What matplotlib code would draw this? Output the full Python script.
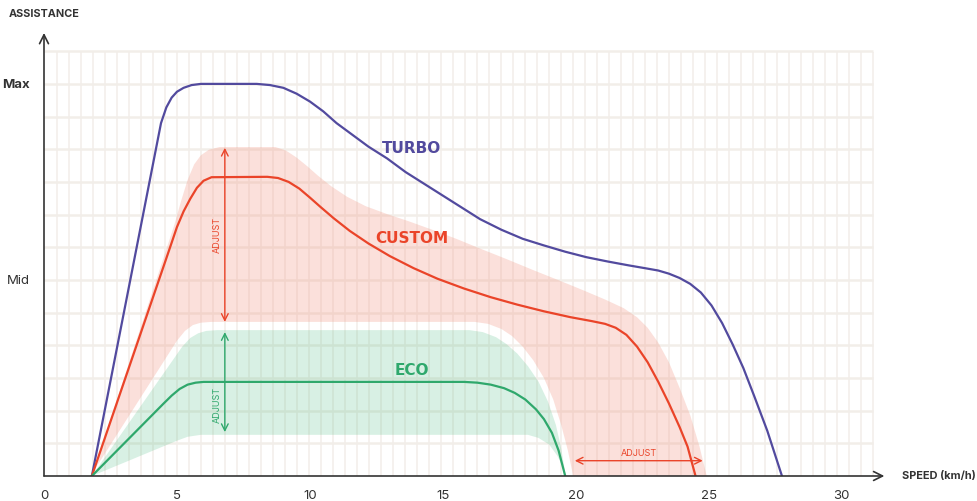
import numpy as np
import matplotlib
matplotlib.use('Agg')
import matplotlib.pyplot as plt

# speed (km/h) -> assistance (0..1, Mid = 0.5, Max = 1)
turbo_x = [1.8, 4.4, 4.6, 4.8, 5.0, 5.25, 5.55, 5.9, 8.0, 8.5, 9.0, 9.5, 10.0, 10.5, 11.0, 11.6, 12.2,
           12.9, 13.6, 14.3, 15.0, 15.7, 16.4, 17.2, 18.0, 18.8, 19.6, 20.4, 21.2, 22.0, 22.6, 23.1,
           23.5, 23.9, 24.3, 24.7, 25.1, 25.5, 25.9, 26.3, 26.7, 27.2, 27.75]
turbo_y = [0, 0.9, 0.94, 0.965, 0.98, 0.99, 0.997, 1.0, 1.0, 0.997, 0.99, 0.975, 0.955, 0.93, 0.9, 0.87, 0.84,
           0.81, 0.775, 0.745, 0.715, 0.685, 0.655, 0.628, 0.605, 0.588, 0.572, 0.558, 0.547, 0.537, 0.53, 0.524,
           0.516, 0.505, 0.49, 0.468, 0.435, 0.39, 0.335, 0.275, 0.205, 0.115, 0]

custom_x = [1.8, 4.7, 5.0, 5.25, 5.5, 5.75, 6.0, 6.3, 8.4, 8.8, 9.2, 9.6, 10.0, 10.4, 10.9, 11.5, 12.2,
            13.0, 13.9, 14.8, 15.8, 16.8, 17.8, 18.8, 19.8, 20.6, 21.1, 21.5, 21.9, 22.3, 22.7, 23.1,
            23.5, 23.9, 24.2, 24.5]
custom_y = [0, 0.575, 0.635, 0.675, 0.707, 0.735, 0.753, 0.762, 0.763, 0.76, 0.75, 0.733, 0.71, 0.686, 0.657,
            0.625, 0.593, 0.561, 0.53, 0.503, 0.478, 0.456, 0.437, 0.42, 0.405, 0.395, 0.388, 0.378, 0.36, 0.33,
            0.29, 0.24, 0.185, 0.125, 0.075, 0]

custom_hi_x = [1.8, 4.9, 5.15, 5.4, 5.65, 5.9, 6.2, 6.6, 8.7, 9.1, 9.5, 9.9, 10.3, 10.8, 11.4, 12.1, 12.9,
               13.7, 14.6, 15.5, 16.4, 17.4, 18.4, 19.4, 20.3, 21.1, 21.8, 22.3, 22.7, 23.1, 23.5, 23.9,
               24.3, 24.65, 24.92]
custom_hi_y = [0, 0.64, 0.7, 0.755, 0.795, 0.818, 0.832, 0.839, 0.839, 0.83, 0.812, 0.79, 0.766, 0.739, 0.712,
               0.688, 0.668, 0.65, 0.628, 0.605, 0.58, 0.553, 0.525, 0.498, 0.473, 0.45, 0.428, 0.405, 0.378,
               0.34, 0.29, 0.225, 0.155, 0.075, 0]
custom_lo_x = [1.75, 5.0, 5.3, 5.6, 5.9, 6.3, 16.2, 16.7, 17.2, 17.6, 18.0, 18.4, 18.8, 19.15, 19.45, 19.7, 19.9]
custom_lo_y = [0, 0.345, 0.37, 0.385, 0.391, 0.393, 0.393, 0.388, 0.375, 0.357, 0.33, 0.295, 0.25, 0.195,
               0.13, 0.065, 0]

eco_x = [1.8, 4.5, 4.8, 5.1, 5.4, 5.7, 6.0, 15.8, 16.3, 16.8, 17.3, 17.7, 18.1, 18.5, 18.8, 19.1, 19.35, 19.6]
eco_y = [0, 0.185, 0.205, 0.222, 0.233, 0.238, 0.24, 0.24, 0.238, 0.233, 0.224, 0.212, 0.195, 0.17, 0.145,
         0.11, 0.065, 0]

eco_hi_x = [1.8, 5.2, 5.5, 5.8, 6.1, 6.5, 16.0, 16.5, 17.0, 17.4, 17.8, 18.2, 18.6, 18.95, 19.25, 19.45, 19.62]
eco_hi_y = [0, 0.33, 0.352, 0.364, 0.37, 0.372, 0.372, 0.367, 0.354, 0.336, 0.312, 0.28, 0.24, 0.19, 0.13,
            0.07, 0]
eco_lo_x = [1.8, 5.0, 5.4, 5.9, 18.2, 18.6, 19.0, 19.3, 19.5, 19.62]
eco_lo_y = [0, 0.09, 0.1, 0.105, 0.105, 0.097, 0.08, 0.052, 0.025, 0]

x_ticks = [0, 5, 10, 15, 20, 25, 30]
y_ticks = [0.5, 1.0]
y_labels = ['Mid', 'Max']

PURPLE = '#524a9e'
RED = '#ea4429'
GREEN = '#2fa86c'
DARK = '#333333'

fig = plt.figure(figsize=(9.78, 5.01), dpi=100)
ax = fig.add_axes([44 / 978, 25 / 501, 843 / 978, 447 / 501])
ax.set_xlim(0, 31.7)
ax.set_ylim(0, 1.14)
for s in ax.spines.values():
    s.set_visible(False)

# grid
grid_c = '#f2eee9'
ax.vlines(np.linspace(0.48, 31.16, 69), 0, 1.0825, color=grid_c, lw=1.1, zorder=0)
ax.hlines(np.arange(1, 14) / 12, 0, 31.16, color=grid_c, lw=1.8, zorder=0)

# bands
ax.fill(custom_hi_x + custom_lo_x[::-1], custom_hi_y + custom_lo_y[::-1],
        color='#f29a88', alpha=0.3, lw=0, zorder=1)
ax.fill(eco_hi_x + eco_lo_x[::-1], eco_hi_y + eco_lo_y[::-1],
        color='#3cb878', alpha=0.2, lw=0, zorder=1)

# curves
ax.plot(turbo_x, turbo_y, color=PURPLE, lw=1.6, zorder=3, solid_joinstyle='round')
ax.plot(custom_x, custom_y, color=RED, lw=1.6, zorder=3, solid_joinstyle='round')
ax.plot(eco_x, eco_y, color=GREEN, lw=1.6, zorder=3, solid_joinstyle='round')

ax.text(13.83, 0.834, 'TURBO', color=PURPLE, fontsize=11, fontweight='bold', ha='center', va='center')
ax.text(13.83, 0.605, 'CUSTOM', color=RED, fontsize=11, fontweight='bold', ha='center', va='center')
ax.text(13.83, 0.27, 'ECO', color=GREEN, fontsize=11, fontweight='bold', ha='center', va='center')

# adjust arrows
def dbl_arrow(p0, p1, c):
    ax.annotate('', xy=p1, xytext=p0, zorder=4,
                arrowprops=dict(arrowstyle='<->', color=c, lw=1.0, shrinkA=0, shrinkB=0,
                                mutation_scale=12))

dbl_arrow((6.8, 0.393), (6.8, 0.837), RED)
dbl_arrow((6.8, 0.112), (6.8, 0.367), GREEN)
dbl_arrow((19.96, 0.039), (24.77, 0.039), RED)
ax.text(6.5, 0.615, 'ADJUST', color=RED, fontsize=6.5, rotation=90, ha='center', va='center', family='Inter')
ax.text(6.5, 0.18, 'ADJUST', color=GREEN, fontsize=6.5, rotation=90, ha='center', va='center', family='Inter')
ax.text(22.37, 0.058, 'ADJUST', color=RED, fontsize=6.5, ha='center', va='center', family='Inter')

# axes with arrows
ax.annotate('', xy=(31.6, 0), xytext=(0, 0), annotation_clip=False, zorder=5,
            arrowprops=dict(arrowstyle='->', color=DARK, lw=1.2, shrinkA=0, shrinkB=0, mutation_scale=16))
ax.annotate('', xy=(0, 1.13), xytext=(0, 0), annotation_clip=False, zorder=5,
            arrowprops=dict(arrowstyle='->', color=DARK, lw=1.2, shrinkA=0, shrinkB=0, mutation_scale=16))

ax.set_xticks(x_ticks)
ax.set_xticklabels([str(t) for t in x_ticks], family='Inter', fontsize=9.5, color=DARK)
ax.set_yticks(y_ticks)
ax.set_yticklabels(y_labels, family='Inter', fontsize=9.5, color=DARK)
ax.get_yticklabels()[1].set_fontweight('bold')
ax.tick_params(length=0)
ax.tick_params(axis='x', pad=10)
ax.tick_params(axis='y', pad=10)

fig.text(9 / 978, 1 - 14 / 501, 'ASSISTANCE', family='Inter', fontweight='bold', fontsize=7.8,
         color=DARK, ha='left', va='center')
fig.text(902 / 978, 1 - 476 / 501, 'SPEED (km/h)', family='Inter', fontweight='bold', fontsize=7.9,
         color=DARK, ha='left', va='center')

fig.savefig('out.png', dpi=100)
